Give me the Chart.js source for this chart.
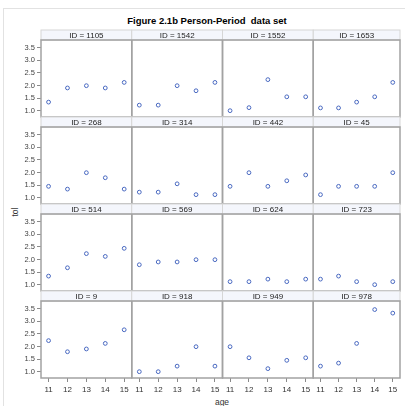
<!DOCTYPE html>
<html>
<head>
<meta charset="utf-8">
<script src="https://cdn.jsdelivr.net/npm/chart.js@4"></script>
<style>
  body { margin: 0; background: #fff; font-family: "Liberation Sans", Arial, sans-serif; }
  #wrap { position: relative; width: 405px; height: 406px; overflow: hidden; }
  #wrap canvas { position: absolute; left: 0; top: 0; }
  #frame { position: absolute; left: 3px; top: 8px; width: 420px; height: 420px;
           border-left: 1px solid #e2e2e2; border-top: 1px solid #e2e2e2; }
  #title { position: absolute; left: 0; top: 15px; width: 414px; text-align: center;
           font-weight: bold; font-size: 9.5px; white-space: pre; color: #000; }
  #ylab { position: absolute; left: 11px; top: 207px; font-size: 8.5px; color: #333;
          transform: rotate(-90deg); transform-origin: center; }
  #xlab { position: absolute; left: 0; width: 444px; top: 397px; text-align: center;
          font-size: 8.5px; color: #333; }
</style>
</head>
<body>
<div id="wrap">
  <div id="frame"></div>
  <div id="title">Figure 2.1b Person-Period  data set</div>
  <div id="ylab">tol</div>
  <div id="xlab">age</div>
</div>
<script>
// data
var ages = [11, 12, 13, 14, 15];
var ids = ["1105", "1542", "1552", "1653", "268", "314", "442", "45",
           "514", "569", "624", "723", "9", "918", "949", "978"];
var tol_1105 = [1.34, 1.90, 1.99, 1.90, 2.12];
var tol_1542 = [1.22, 1.22, 1.99, 1.79, 2.12];
var tol_1552 = [1.00, 1.12, 2.23, 1.55, 1.55];
var tol_1653 = [1.11, 1.11, 1.34, 1.55, 2.12];
var tol_268  = [1.45, 1.34, 1.99, 1.79, 1.34];
var tol_314  = [1.22, 1.22, 1.55, 1.12, 1.12];
var tol_442  = [1.45, 1.99, 1.45, 1.67, 1.90];
var tol_45   = [1.12, 1.45, 1.45, 1.45, 1.99];
var tol_514  = [1.34, 1.67, 2.23, 2.12, 2.44];
var tol_569  = [1.79, 1.90, 1.90, 1.99, 1.99];
var tol_624  = [1.12, 1.12, 1.22, 1.12, 1.22];
var tol_723  = [1.22, 1.34, 1.12, 1.00, 1.12];
var tol_9    = [2.23, 1.79, 1.90, 2.12, 2.66];
var tol_918  = [1.00, 1.00, 1.22, 1.99, 1.22];
var tol_949  = [1.99, 1.55, 1.12, 1.45, 1.55];
var tol_978  = [1.22, 1.34, 2.12, 3.46, 3.32];
var tolValues = [tol_1105, tol_1542, tol_1552, tol_1653, tol_268, tol_314, tol_442, tol_45,
                 tol_514, tol_569, tol_624, tol_723, tol_9, tol_918, tol_949, tol_978];
var xTicks = [11, 12, 13, 14, 15];
var yTicks = [1.0, 1.5, 2.0, 2.5, 3.0, 3.5];

// layout of the 4x4 grid
var W = 405, H = 406;
var gridLeft = 41, gridRight = 404, gridTop = 30;
var colW = (gridRight - gridLeft) / 4;
var rowH = 87, hdrH = 10;
var yAxisW = 22, xAxisH = 20;

// panel header + frame
var panelFrame = {
  id: 'panelFrame',
  afterDraw: function(chart, args, opts) {
    var a = chart.chartArea, c = chart.ctx;
    c.save();
    c.fillStyle = '#f4f6fc';
    c.fillRect(a.left, a.top - hdrH, a.right - a.left, hdrH);
    c.strokeStyle = '#d6d6d6';
    c.lineWidth = 1;
    c.strokeRect(a.left, a.top - hdrH, a.right - a.left, hdrH);
    c.fillStyle = '#222';
    c.font = '8px "Liberation Sans", Arial, sans-serif';
    c.textAlign = 'center';
    c.textBaseline = 'middle';
    c.fillText(opts.label, (a.left + a.right) / 2, a.top - hdrH / 2 + 0.5);
    c.strokeStyle = '#a2a2a2';
    c.lineWidth = 1.5;
    c.strokeRect(a.left, a.top, a.right - a.left, a.bottom - a.top);
    c.restore();
  }
};

var wrap = document.getElementById('wrap');
ids.forEach(function(id, i) {
  var col = i % 4, row = Math.floor(i / 4);
  var left = gridLeft + col * colW, right = left + colW;
  var top = gridTop + row * rowH + hdrH, bottom = gridTop + (row + 1) * rowH;
  var showY = col === 0, showX = row === 3;

  var cv = document.createElement('canvas');
  cv.width = W; cv.height = H;
  wrap.appendChild(cv);

  var pts = ages.map(function(a, k) { return { x: a, y: tolValues[i][k] }; });

  new Chart(cv.getContext('2d'), {
    type: 'scatter',
    data: {
      datasets: [{
        data: pts,
        pointStyle: 'circle',
        pointRadius: 1.9,
        borderWidth: 1,
        borderColor: '#4868c0',
        backgroundColor: 'rgba(255,255,255,0)'
      }]
    },
    options: {
      responsive: false,
      animation: false,
      events: [],
      layout: {
        padding: {
          left: left - (showY ? yAxisW : 0),
          right: W - right,
          top: top,
          bottom: H - bottom - (showX ? xAxisH : 0)
        }
      },
      plugins: {
        legend: { display: false },
        tooltip: { enabled: false },
        panelFrame: { label: 'ID = ' + id }
      },
      scales: {
        x: {
          type: 'linear',
          min: 10.6, max: 15.4,
          display: showX,
          afterBuildTicks: function(s) { s.ticks = xTicks.map(function(v) { return { value: v }; }); },
          afterFit: function(s) { s.height = showX ? xAxisH : 0; },
          grid: { drawOnChartArea: false, drawTicks: true, tickLength: 4, color: '#8a8a8a' },
          border: { display: false },
          ticks: { color: '#333', font: { size: 8 }, padding: 3, maxRotation: 0, autoSkip: false,
                   callback: function(v) { return v; } }
        },
        y: {
          type: 'linear',
          min: 0.75, max: 3.8,
          display: showY,
          afterBuildTicks: function(s) { s.ticks = yTicks.map(function(v) { return { value: v }; }); },
          afterFit: function(s) { s.width = showY ? yAxisW : 0; },
          grid: { drawOnChartArea: false, drawTicks: true, tickLength: 4, color: '#8a8a8a' },
          border: { display: false },
          ticks: { color: '#444', font: { size: 7.5 }, padding: 2, autoSkip: false,
                   callback: function(v) { return Number(v).toFixed(1); } }
        }
      }
    },
    plugins: [panelFrame]
  });
});
</script>
</body>
</html>
